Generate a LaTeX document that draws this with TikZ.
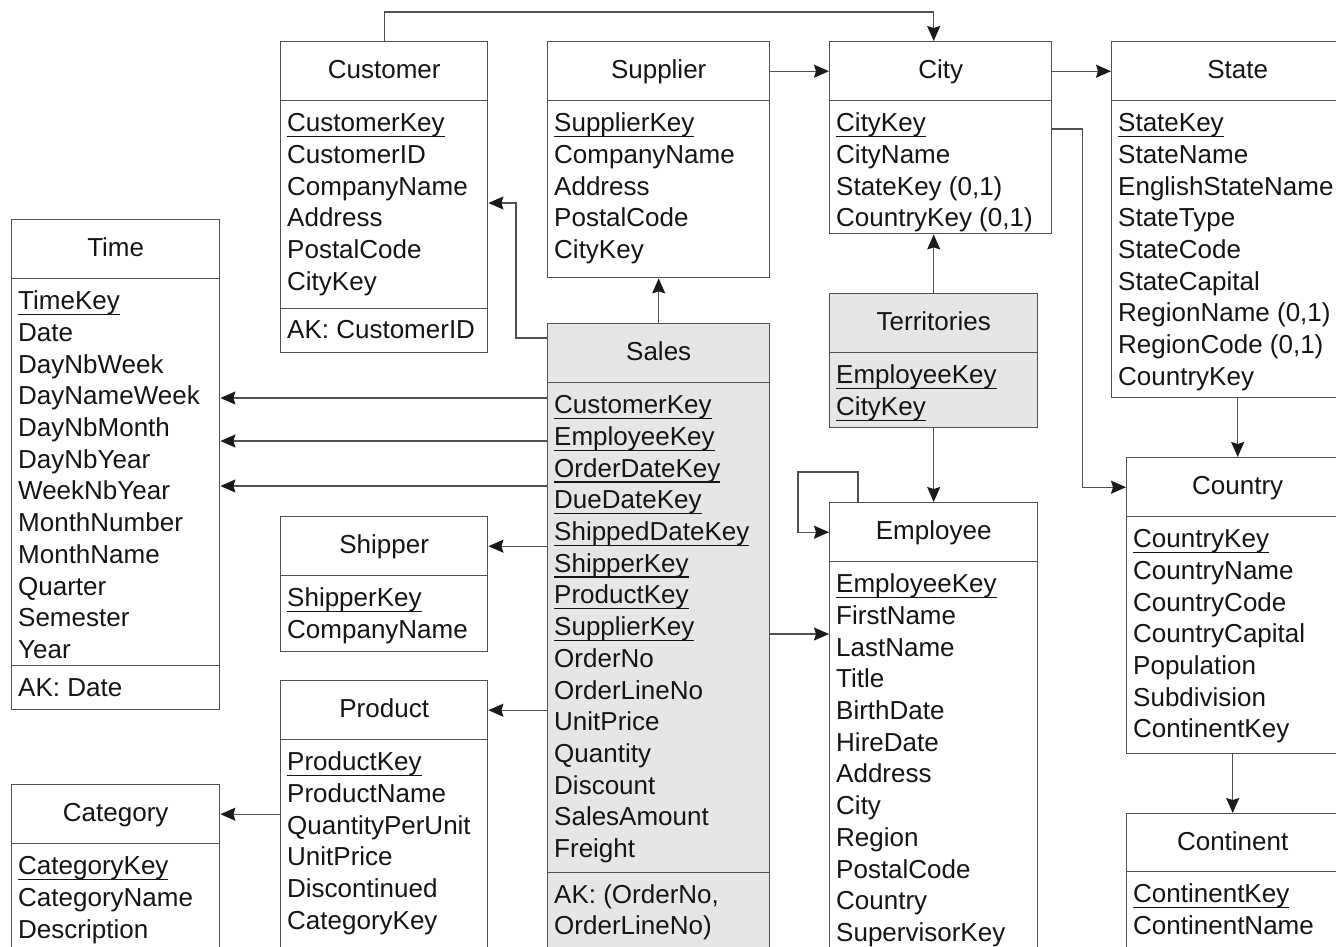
\documentclass[tikz,border=0pt]{standalone}
\usepackage{fontspec}
\setmainfont{Liberation Sans}
\usetikzlibrary{arrows.meta}
\definecolor{lc}{HTML}{505050}
\definecolor{factgray}{HTML}{E6E6E6}
\definecolor{tc}{HTML}{151515}
\definecolor{ac}{HTML}{1A1A1A}
\newlength\ukw
\newcommand\uk[1]{\settowidth\ukw{#1}\rlap{\rule[-5.5pt]{\ukw}{1.3pt}}#1}
\newcommand\tfont{\fontsize{26pt}{31.7pt}\selectfont}
\newcommand\fs{\rule{0pt}{20pt}}
\begin{document}
\begin{tikzpicture}[x=1pt,y=-1pt,
 hdr/.style={draw=lc, line width=1.4pt, fill=white, inner sep=0pt, text height=19.5pt, text depth=4.5pt, anchor=north west, font=\tfont, text=tc},
 bdy/.style={draw=lc, line width=1.4pt, fill=white, inner sep=0pt, anchor=north west},
 rows/.style={anchor=north west, inner sep=0pt, align=left, font=\tfont, text=tc},
 fact/.style={fill=factgray},
 conn/.style={draw=lc, line width=1.4pt, -{Stealth[length=15pt,width=13pt,inset=2pt,color=ac,fill=ac]}},
]
\useasboundingbox (0,0) rectangle (1336,946);
\clip (0,0) rectangle (1336,946);

% Customer
\node[hdr, minimum width=207pt, minimum height=59pt] (custH) at (280,41) {Customer};
\node[bdy, minimum width=207pt, minimum height=208pt] (custB) at (280,100) {};
\node[bdy, minimum width=207pt, minimum height=44pt] (custA) at (280,308) {};
\node[rows] (custBT) at ([shift={(7,11.5)}]custB.north west) {\fs\uk{CustomerKey}\\CustomerID\\CompanyName\\Address\\PostalCode\\CityKey};
\node[rows] (custAT) at ([shift={(7,10)}]custA.north west) {\fs AK: CustomerID};

% Supplier
\node[hdr, minimum width=222pt, minimum height=59pt] (supH) at (547,41) {Supplier};
\node[bdy, minimum width=222pt, minimum height=177pt] (supB) at (547,100) {};
\node[rows] (supBT) at ([shift={(7,11.5)}]supB.north west) {\fs\uk{SupplierKey}\\CompanyName\\Address\\PostalCode\\CityKey};

% City
\node[hdr, minimum width=222pt, minimum height=59pt] (cityH) at (829,41) {City};
\node[bdy, minimum width=222pt, minimum height=133pt] (cityB) at (829,100) {};
\node[rows] (cityBT) at ([shift={(7,11.5)}]cityB.north west) {\fs\uk{CityKey}\\CityName\\StateKey (0,1)\\CountryKey (0,1)};

% State
\node[hdr, minimum width=252pt, minimum height=59pt] (stateH) at (1111,41) {State};
\node[bdy, minimum width=260pt, minimum height=297pt] (stateB) at (1111,100) {};
\node[rows] (stateBT) at ([shift={(7,11.5)}]stateB.north west) {\fs\uk{StateKey}\\StateName\\EnglishStateName\\StateType\\StateCode\\StateCapital\\RegionName (0,1)\\RegionCode (0,1)\\CountryKey};

% Time
\node[hdr, minimum width=208pt, minimum height=59pt] (timeH) at (11,219) {Time};
\node[bdy, minimum width=208pt, minimum height=387pt] (timeB) at (11,278) {};
\node[bdy, minimum width=208pt, minimum height=44pt] (timeA) at (11,665) {};
\node[rows] (timeBT) at ([shift={(7,11.5)}]timeB.north west) {\fs\uk{TimeKey}\\Date\\DayNbWeek\\DayNameWeek\\DayNbMonth\\DayNbYear\\WeekNbYear\\MonthNumber\\MonthName\\Quarter\\Semester\\Year};
\node[rows] (timeAT) at ([shift={(7,11)}]timeA.north west) {\fs AK: Date};

% Sales
\node[hdr, fact, minimum width=222pt, minimum height=59pt] (salesH) at (547,323) {Sales};
\node[bdy, fact, minimum width=222pt, minimum height=490pt] (salesB) at (547,382) {};
\node[bdy, fact, minimum width=222pt, minimum height=100pt] (salesA) at (547,872) {};
\node[rows] (salesBT) at ([shift={(7,11.5)}]salesB.north west) {\fs\uk{CustomerKey}\\\uk{EmployeeKey}\\\uk{OrderDateKey}\\\uk{DueDateKey}\\\uk{ShippedDateKey}\\\uk{ShipperKey}\\\uk{ProductKey}\\\uk{SupplierKey}\\OrderNo\\OrderLineNo\\UnitPrice\\Quantity\\Discount\\SalesAmount\\Freight};
\node[rows] (salesAT) at ([shift={(7,11)}]salesA.north west) {\fs AK: (OrderNo,\\OrderLineNo)};

% Territories
\node[hdr, fact, minimum width=208pt, minimum height=59pt] (terrH) at (829,293) {Territories};
\node[bdy, fact, minimum width=208pt, minimum height=75pt] (terrB) at (829,352) {};
\node[rows] (terrBT) at ([shift={(7,11.5)}]terrB.north west) {\fs\uk{EmployeeKey}\\\uk{CityKey}};

% Shipper
\node[hdr, minimum width=207pt, minimum height=59pt] (shipH) at (280,516) {Shipper};
\node[bdy, minimum width=207pt, minimum height=76pt] (shipB) at (280,575) {};
\node[rows] (shipBT) at ([shift={(7,11.5)}]shipB.north west) {\fs\uk{ShipperKey}\\CompanyName};

% Product
\node[hdr, minimum width=207pt, minimum height=59pt] (prodH) at (280,680) {Product};
\node[bdy, minimum width=207pt, minimum height=230pt] (prodB) at (280,739) {};
\node[rows] (prodBT) at ([shift={(7,11.5)}]prodB.north west) {\fs\uk{ProductKey}\\ProductName\\QuantityPerUnit\\UnitPrice\\Discontinued\\CategoryKey};

% Category
\node[hdr, minimum width=208pt, minimum height=59pt] (catH) at (11,784) {Category};
\node[bdy, minimum width=208pt, minimum height=130pt] (catB) at (11,843) {};
\node[rows] (catBT) at ([shift={(7,11.5)}]catB.north west) {\fs\uk{CategoryKey}\\CategoryName\\Description};

% Employee
\node[hdr, minimum width=208pt, minimum height=59pt] (empH) at (829,502) {Employee};
\node[bdy, minimum width=208pt, minimum height=400pt] (empB) at (829,561) {};
\node[rows] (empBT) at ([shift={(7,11.5)}]empB.north west) {\fs\uk{EmployeeKey}\\FirstName\\LastName\\Title\\BirthDate\\HireDate\\Address\\City\\Region\\PostalCode\\Country\\SupervisorKey};

% Country
\node[hdr, minimum width=222pt, minimum height=59pt] (countryH) at (1126,457) {Country};
\node[bdy, minimum width=222pt, minimum height=237pt] (countryB) at (1126,516) {};
\node[rows] (countryBT) at ([shift={(7,11.5)}]countryB.north west) {\fs\uk{CountryKey}\\CountryName\\CountryCode\\CountryCapital\\Population\\Subdivision\\ContinentKey};

% Continent
\node[hdr, minimum width=212pt, minimum height=58pt] (contH) at (1126,813) {Continent};
\node[bdy, minimum width=212pt, minimum height=100pt] (contB) at (1126,871) {};
\node[rows] (contBT) at ([shift={(7,11.5)}]contB.north west) {\fs\uk{ContinentKey}\\ContinentName};

% helper coordinates
\coordinate (s1) at ([yshift=-16pt]salesB.north west);
\coordinate (s2) at ([yshift=-59pt]salesB.north west);
\coordinate (s3) at ([yshift=-104pt]salesB.north west);
\coordinate (c1) at ([yshift=-103pt]custB.north east);
\coordinate (e1) at ([yshift=-73pt]empB.north west);
\coordinate (k1) at ([xshift=-7pt]cityH.north);

% connectors
\draw[conn] (custH.north) -- ++(0,-29) -| (k1);
\draw[conn] (supH.east) -- (cityH.west);
\draw[conn] (cityH.east) -- (stateH.west);
\draw[conn] ([yshift=-29pt]cityB.north east) -- ++(30,0) |- (countryH.west);
\draw[conn] (stateB.south -| countryH.north) -- (countryH.north);
\draw[conn] (countryB.south -| contH.north) -- (contH.north);
\draw[conn] (salesH.north) -- (supB.south);
\draw[conn] ([yshift=-15pt]salesH.north west) -- ++(-31,0) |- (c1);
\draw[conn] (s1) -- (timeB.east |- s1);
\draw[conn] (s2) -- (timeB.east |- s2);
\draw[conn] (s3) -- (timeB.east |- s3);
\draw[conn] (salesB.west |- shipH.east) -- (shipH.east);
\draw[conn] (salesB.west |- prodH.east) -- (prodH.east);
\draw[conn] (prodB.west |- catH.east) -- (catH.east);
\draw[conn] (salesB.east |- e1) -- (e1);
\draw[conn] (terrH.north) -- (cityB.south -| terrH.north);
\draw[conn] (terrB.south) -- (empH.north);
\draw[conn] ([xshift=29pt]empH.north west) -- ++(0,-30) -- ++(-60,0) |- (empH.west);
\end{tikzpicture}
\end{document}
